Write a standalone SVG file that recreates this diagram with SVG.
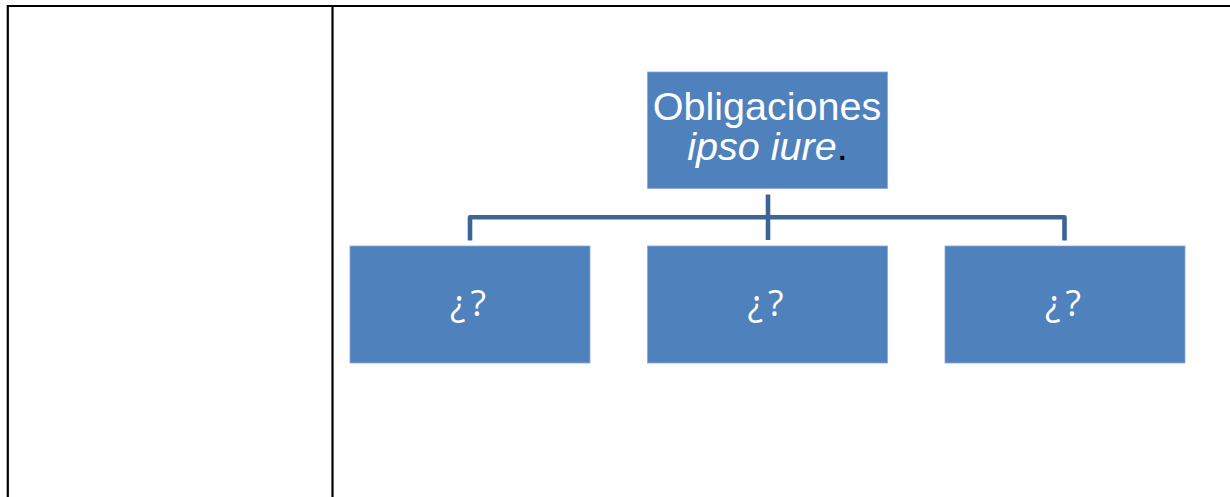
<svg xmlns="http://www.w3.org/2000/svg" width="1230" height="497" viewBox="0 0 1230 497">
<style>
.frame{stroke:#000;stroke-width:2.2;fill:none}
.box{fill:#4f81bd;stroke:#8aa9d4;stroke-width:0.8}
.conn{stroke:#3d6594;stroke-width:4.6;fill:none;stroke-linejoin:round}
.t1{font-family:"Liberation Sans",Arial,sans-serif;font-size:39.5px;fill:#fff;text-anchor:middle}
.t2{font-family:"Open Sans",sans-serif;font-size:36px;fill:#fff;text-anchor:middle;letter-spacing:5px}
</style>
<rect width="1230" height="497" fill="#fff"/>
<g id="table">
<path class="frame" d="M7.8 497 V6 H1230 M332.5 6 V497"/>
</g>
<g id="connectors">
<path class="conn" d="M768 194.5 V240"/>
<path class="conn" d="M470 240.5 V217.3 H1064.5 V240.5"/>
</g>
<g id="top">
<rect class="box" x="647.5" y="72" width="240" height="116.5"/>
<text class="t1" x="767" y="120">Obligaciones</text>
<text class="t1" x="767.5" y="160" font-style="italic">ipso iure<tspan fill="#000" font-style="normal">.</tspan></text>
</g>
<g id="child1">
<rect class="box" x="350" y="246" width="240" height="117"/>
<text class="t2" x="470.5" y="316">¿?</text>
</g>
<g id="child2">
<rect class="box" x="647.5" y="246" width="240" height="117"/>
<text class="t2" x="768" y="316">¿?</text>
</g>
<g id="child3">
<rect class="box" x="945" y="246" width="240" height="117"/>
<text class="t2" x="1065.5" y="316">¿?</text>
</g>
</svg>
